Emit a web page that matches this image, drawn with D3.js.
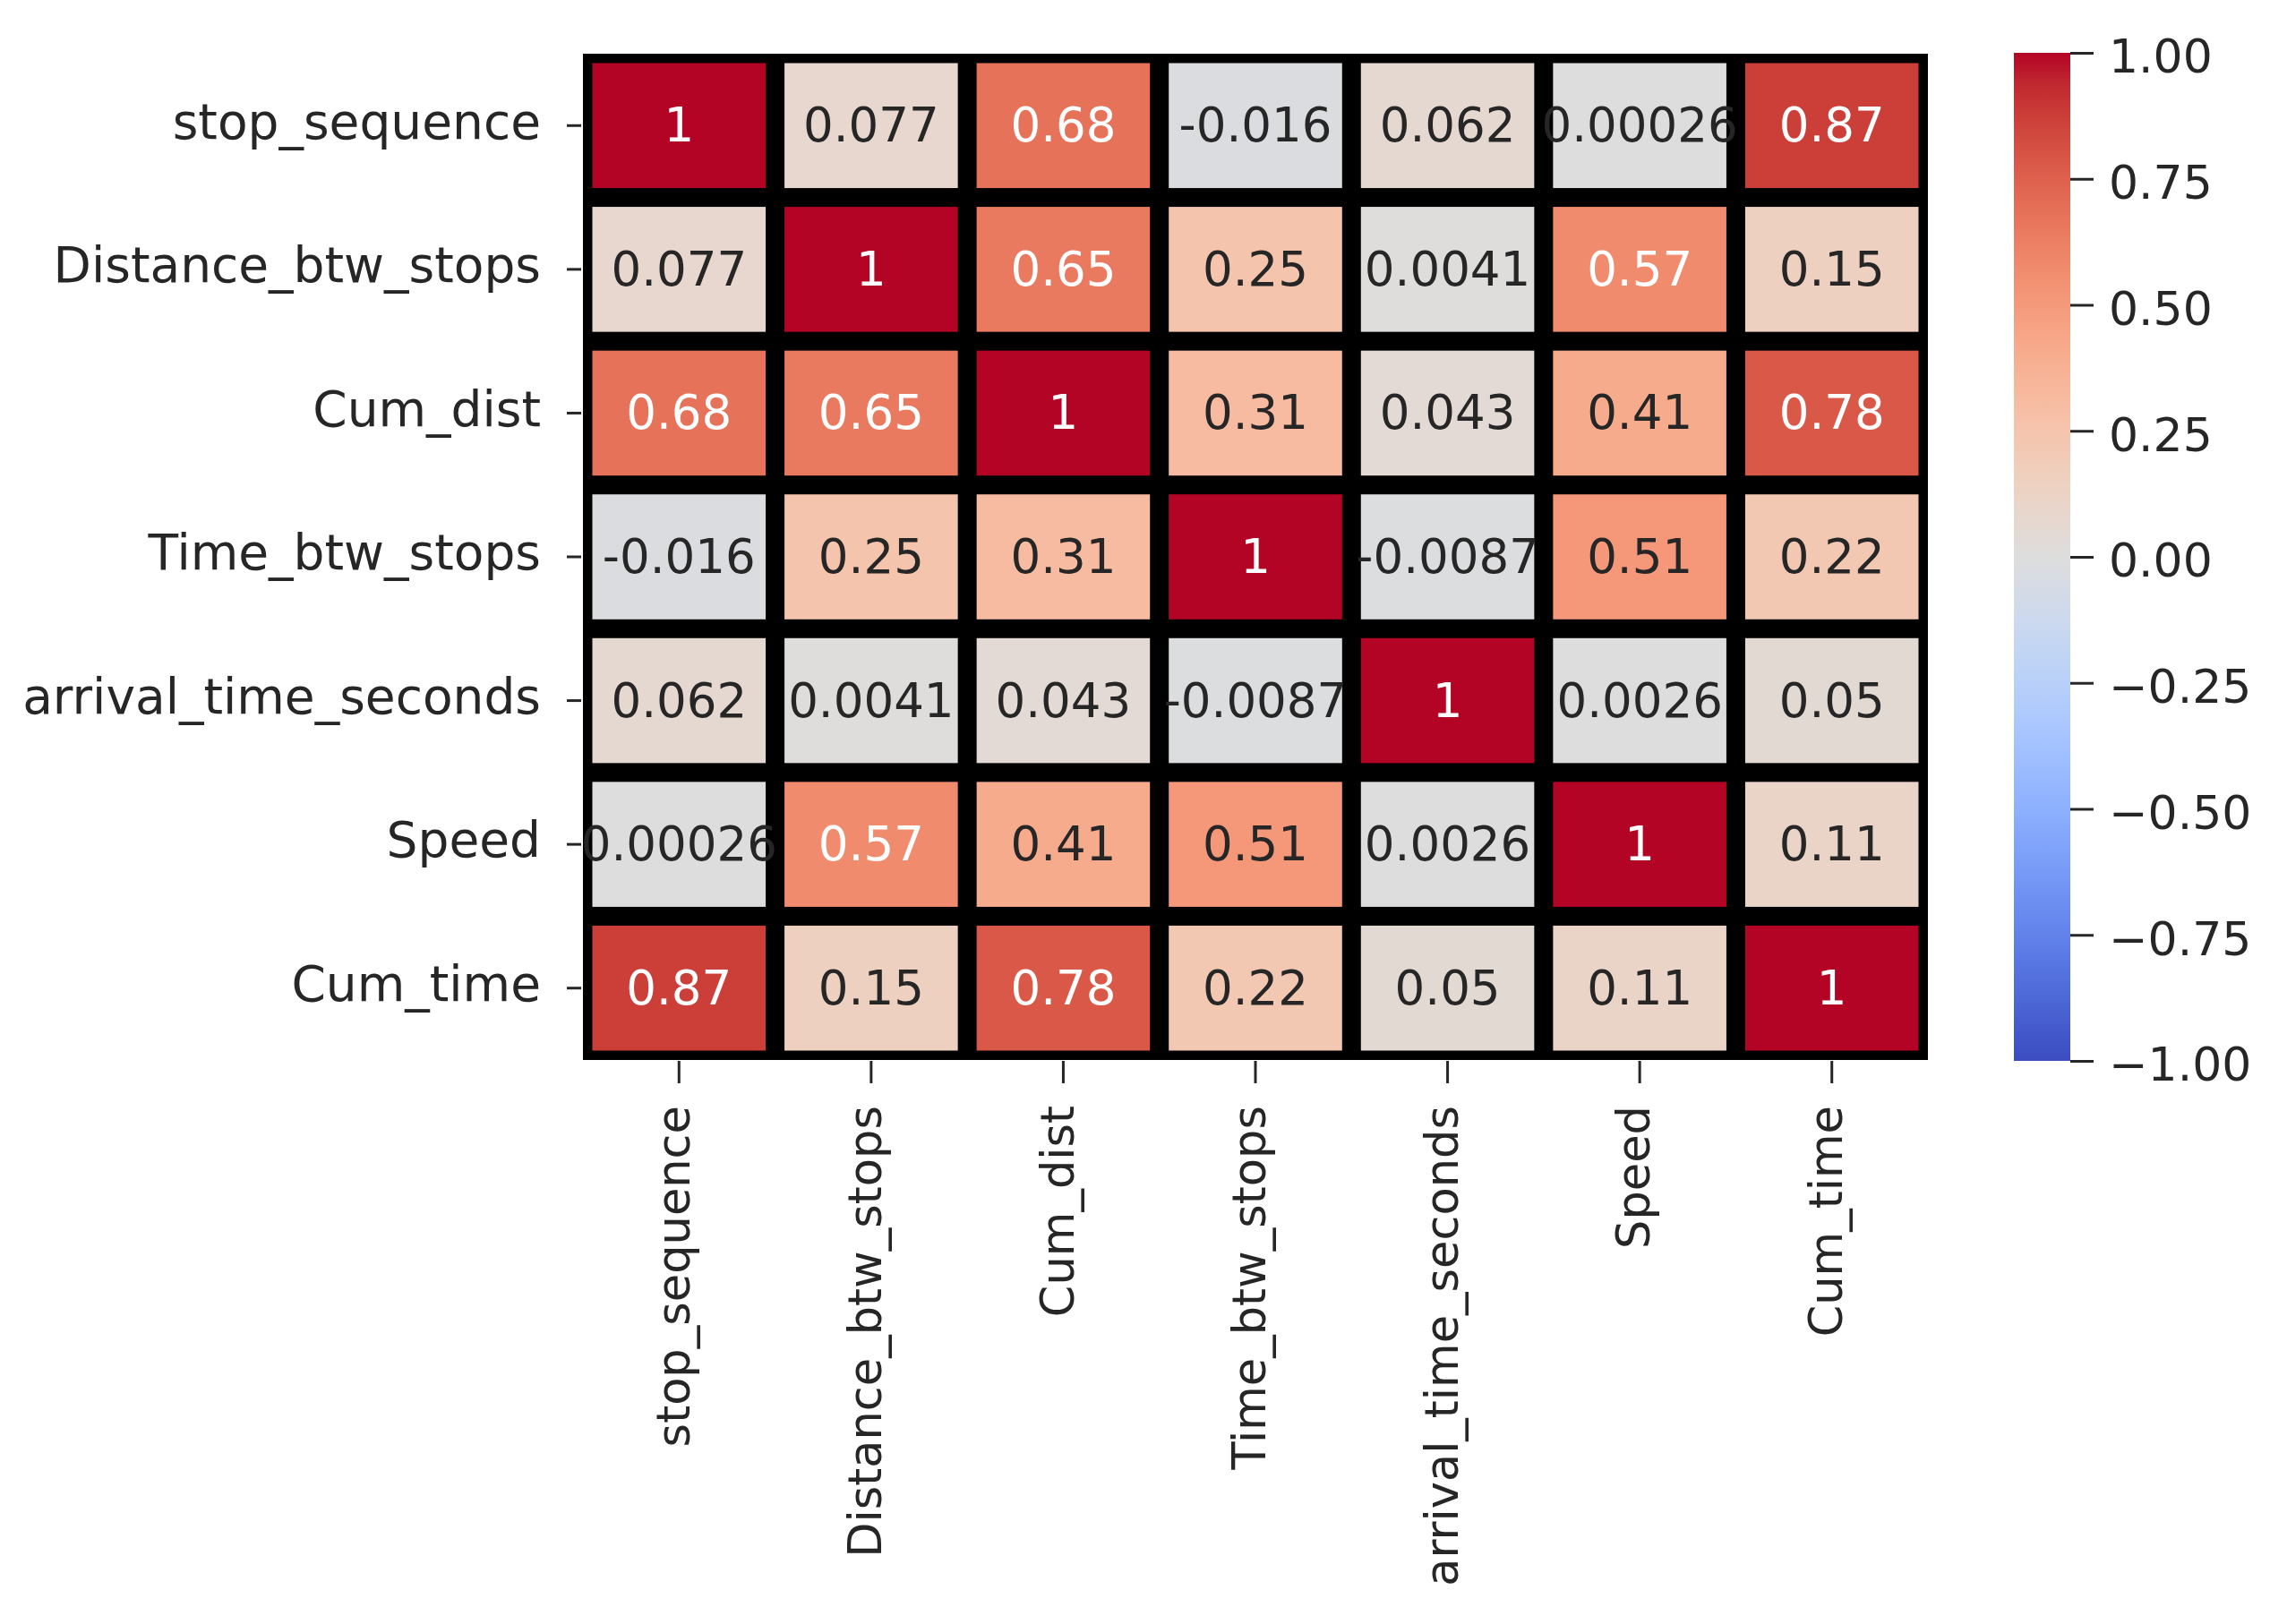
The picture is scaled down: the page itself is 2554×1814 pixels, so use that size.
<!DOCTYPE html>
<html>
<head>
<meta charset="utf-8">
<script src="https://cdn.jsdelivr.net/npm/d3@7"></script>
<style>
  body { margin: 0; background: #fff; }
  text { font-family: "DejaVu Sans", sans-serif; }
</style>
</head>
<body>
<svg id="chart" width="2554" height="1814"></svg>
<script>
// features, in the order of rows and columns
var features = ['stop_sequence', 'Distance_btw_stops', 'Cum_dist', 'Time_btw_stops',
  'arrival_time_seconds', 'Speed', 'Cum_time']

// correlation rows
var stopSequence = [1, 0.077, 0.68, -0.016, 0.062, 0.00026, 0.87]
var distanceBtwStops = [0.077, 1, 0.65, 0.25, 0.0041, 0.57, 0.15]
var cumDist = [0.68, 0.65, 1, 0.31, 0.043, 0.41, 0.78]
var timeBtwStops = [-0.016, 0.25, 0.31, 1, -0.0087, 0.51, 0.22]
var arrivalTimeSeconds = [0.062, 0.0041, 0.043, -0.0087, 1, 0.0026, 0.05]
var speed = [0.00026, 0.57, 0.41, 0.51, 0.0026, 1, 0.11]
var cumTime = [0.87, 0.15, 0.78, 0.22, 0.05, 0.11, 1]

var corr = [stopSequence, distanceBtwStops, cumDist, timeBtwStops,
  arrivalTimeSeconds, speed, cumTime]

// colorbar ticks
var barTicks = [-1, -0.75, -0.5, -0.25, 0, 0.25, 0.5, 0.75, 1]

// coolwarm (Moreland) control colours, evenly spaced from -1 to 1
var coolwarm = [
  '#3b4cc0', '#445acc', '#4d68d7', '#5775e1', '#6282ea', '#6c8ef1', '#779af7', '#82a5fb',
  '#8db0fe', '#98b9ff', '#a3c2ff', '#aec9fd', '#b8d0f9', '#c2d5f4', '#ccd9ee', '#d5dbe6',
  '#dddddd', '#e5d8d1', '#ecd3c5', '#f1ccb9', '#f5c4ad', '#f7bba0', '#f7b194', '#f7a687',
  '#f49a7b', '#f18d6f', '#ec7f63', '#e57058', '#de604d', '#d55042', '#cb3e38', '#c0282f',
  '#b40426'
]

var width = 2554
var height = 1814
var margin = {top: 60, left: 651, right: 2153, bottom: 1184}
var bar = {x: 2249, w: 63}
var lineW = 21

var svg = d3.select('#chart')

svg.append('rect')
    .attr('width', width)
    .attr('height', height)
    .attr('fill', '#fff')

var x = d3.scaleBand()
    .domain(features)
    .range([margin.left, margin.right])

var y = d3.scaleBand()
    .domain(features)
    .range([margin.top, margin.bottom])

var color = d3.scaleLinear()
    .domain(coolwarm.map((c, i) => -1 + 2 * i / (coolwarm.length - 1)))
    .range(coolwarm)
    .interpolate(d3.interpolateRgb)
    .clamp(true)

var fmt = d3.formatLocale({decimal: '.', thousands: ',', grouping: [3], currency: ['', ''], minus: '-'})
    .format('.2~g')

function luminance (c) {
  var rgb = d3.rgb(c)
  var lin = [rgb.r, rgb.g, rgb.b].map(function (v) {
    v = v / 255
    return v <= 0.03928 ? v / 12.92 : Math.pow((v + 0.055) / 1.055, 2.4)
  })
  return 0.2126 * lin[0] + 0.7152 * lin[1] + 0.0722 * lin[2]
}

var cells = []
corr.forEach(function (row, i) {
  row.forEach(function (v, j) {
    cells.push({row: features[i], col: features[j], value: v})
  })
})

/*
    --------------------------------------
    Heatmap
*/
var heat = svg.append('g').classed('heat', true)

heat.append('rect')
    .attr('x', margin.left)
    .attr('y', margin.top)
    .attr('width', margin.right - margin.left)
    .attr('height', margin.bottom - margin.top)
    .attr('fill', '#000')

heat.selectAll('.cell')
    .data(cells)
    .enter()
    .append('rect')
    .classed('cell', true)
    .attr('x', d => x(d.col) + lineW / 2)
    .attr('y', d => y(d.row) + lineW / 2)
    .attr('width', x.bandwidth() - lineW)
    .attr('height', y.bandwidth() - lineW)
    .attr('fill', d => color(d.value))

heat.selectAll('.annot')
    .data(cells)
    .enter()
    .append('text')
    .classed('annot', true)
    .attr('x', d => x(d.col) + x.bandwidth() / 2)
    .attr('y', d => y(d.row) + y.bandwidth() / 2)
    .attr('dy', '0.34em')
    .attr('text-anchor', 'middle')
    .style('font-size', '53px')
    .style('fill', d => luminance(color(d.value)) > 0.408 ? '#262626' : '#fff')
    .text(d => fmt(d.value))

/*
    --------------------------------------
    Axes
*/
var yAxis = svg.append('g')
    .attr('transform', `translate(${margin.left - 2},0)`)
    .call(d3.axisLeft(y).tickSize(16).tickPadding(29))

yAxis.select('.domain').remove()
yAxis.selectAll('line').attr('stroke', '#262626').attr('stroke-width', 3)
yAxis.selectAll('text')
    .attr('dy', '0.26em')
    .style('font-size', '55px')
    .style('fill', '#262626')
    .style('font-family', '"DejaVu Sans", sans-serif')

var xAxis = svg.append('g')
    .attr('transform', `translate(0,${margin.bottom + 1})`)
    .call(d3.axisBottom(x).tickSize(25))

xAxis.select('.domain').remove()
xAxis.selectAll('line').attr('stroke', '#262626').attr('stroke-width', 3)
xAxis.selectAll('text')
    .attr('transform', 'rotate(-90)')
    .attr('x', -50)
    .attr('y', 0)
    .attr('dy', '0.22em')
    .attr('text-anchor', 'end')
    .style('font-size', '51px')
    .style('fill', '#262626')
    .style('font-family', '"DejaVu Sans", sans-serif')

/*
    --------------------------------------
    Colorbar
*/
var barY = d3.scaleLinear()
    .domain([-1, 1])
    .range([1185, 59])

var grad = svg.append('defs')
    .append('linearGradient')
    .attr('id', 'cw')
    .attr('x1', 0).attr('y1', 1)
    .attr('x2', 0).attr('y2', 0)

grad.selectAll('stop')
    .data(coolwarm)
    .enter()
    .append('stop')
    .attr('offset', (d, i) => i / (coolwarm.length - 1))
    .attr('stop-color', d => d)

svg.append('rect')
    .attr('x', bar.x)
    .attr('y', barY(1))
    .attr('width', bar.w)
    .attr('height', barY(-1) - barY(1))
    .attr('fill', 'url(#cw)')

var cAxis = svg.append('g')
    .attr('transform', `translate(${bar.x + bar.w},0)`)
    .call(d3.axisRight(barY).tickValues(barTicks).tickFormat(d3.format('.2f')).tickSize(26).tickPadding(17))

cAxis.select('.domain').remove()
cAxis.selectAll('line').attr('stroke', '#262626').attr('stroke-width', 3)
cAxis.selectAll('text')
    .attr('dy', '0.42em')
    .style('font-size', '52px')
    .style('fill', '#262626')
    .style('font-family', '"DejaVu Sans", sans-serif')
</script>
</body>
</html>
